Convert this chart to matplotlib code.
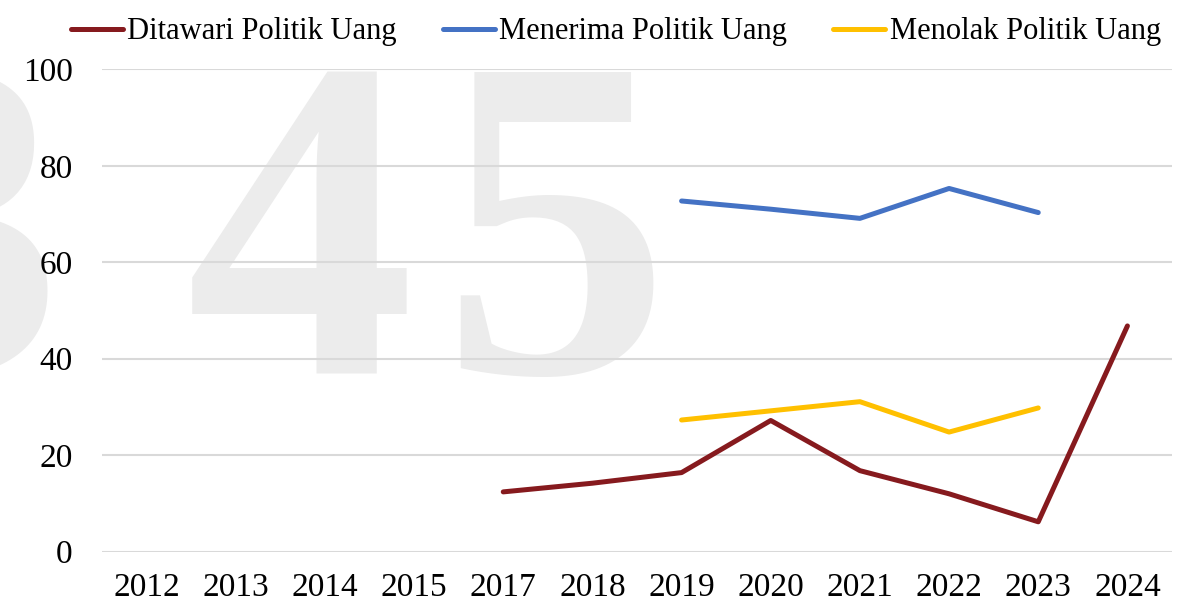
import numpy as np
import matplotlib
matplotlib.use("Agg")
import matplotlib.pyplot as plt

years = ["2012", "2013", "2014", "2015", "2017", "2018",
         "2019", "2020", "2021", "2022", "2023", "2024"]
nan = np.nan
ditawari = [nan, nan, nan, nan, 12.4, 14.2, 16.4, 27.2, 16.8, 12.0, 6.2, 46.8]
menerima = [nan, nan, nan, nan, nan, nan, 72.7, 71.0, 69.1, 75.3, 70.3, nan]
menolak = [nan, nan, nan, nan, nan, nan, 27.3, 29.2, 31.1, 24.8, 29.8, nan]

plt.rcParams['font.family'] = ['Liberation Serif', 'DejaVu Serif']

W, H = 1191, 613
fig = plt.figure(figsize=(W / 100, H / 100), dpi=100)
ax = fig.add_axes([102 / W, 1 - 551.7 / H, (1172 - 102) / W, (551.7 - 69.3) / H])
ax.set_zorder(1)
ax.patch.set_alpha(0)

# watermark digits behind the plot
for ch, cx in [("3", -52), ("4", 300), ("5", 555)]:
    fig.text(cx / W, 1 - 373 / H, ch, ha='center', va='baseline',
             fontsize=330, fontweight='bold', color='#ececec',
             family='Liberation Serif', zorder=0)

x = np.arange(len(years))
ax.plot(x, ditawari, color='#861a1e', lw=3.6, solid_capstyle='round',
        solid_joinstyle='round', label='Ditawari Politik Uang')
ax.plot(x, menerima, color='#4472c4', lw=3.6, solid_capstyle='round',
        solid_joinstyle='round', label='Menerima Politik Uang')
ax.plot(x, menolak, color='#ffc000', lw=3.6, solid_capstyle='round',
        solid_joinstyle='round', label='Menolak Politik Uang')

ax.set_xlim(-0.5, len(years) - 0.5)
ax.set_ylim(0, 100)
ax.set_xticks(x)
ax.set_xticklabels(years)
ax.set_yticks(range(0, 101, 20))
ax.tick_params(axis='both', length=0, labelsize=24)
ax.tick_params(axis='y', pad=21)
ax.tick_params(axis='x', pad=15)
ax.grid(axis='y', color='#d9d9d9', lw=1.5)
ax.set_axisbelow(True)
for s in ax.spines.values():
    s.set_visible(False)

fig.legend(loc='center', bbox_to_anchor=(616 / W, 1 - 32 / H), ncol=3,
           frameon=False, fontsize=22, handlelength=1.7, handletextpad=0.15,
           columnspacing=1.5, borderaxespad=0)

fig.savefig("out.png", dpi=100)
